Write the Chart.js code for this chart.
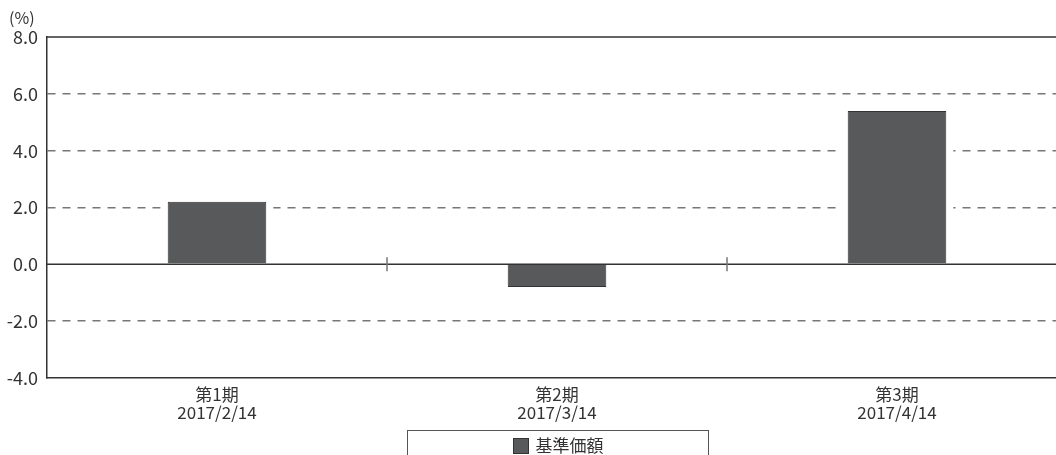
<!DOCTYPE html>
<html>
<head>
<meta charset="utf-8">
<script src="https://cdn.jsdelivr.net/npm/chart.js@4/dist/chart.umd.min.js"></script>
<style>
  html, body { margin: 0; padding: 0; background: #fff; overflow: hidden; }
  #wrap { position: relative; width: 1056px; height: 455px; overflow: hidden; }
  #unit { position: absolute; left: 9px; top: 5px; font: 16px "Noto Sans CJK JP", sans-serif; color: #333; }
  #legend { position: absolute; left: 407px; top: 430px; width: 300px; height: 40px; border: 1px solid #555;
            font: 17px "Noto Sans CJK JP", sans-serif; color: #333; text-align: center; line-height: 27px; }
  #legend span.sw { display: inline-block; width: 14px; height: 14px; border: 1px solid #333; vertical-align: -2px; margin-right: 7px; }
</style>
</head>
<body>
<div id="wrap">
  <canvas id="chart" width="1070" height="455"></canvas>
  <div id="unit">(%)</div>
  <div id="legend"></div>
</div>
<script>
var periods = ['第1期', '第2期', '第3期'];
var dates = ['2017/2/14', '2017/3/14', '2017/4/14'];
var seriesName = '基準価額';
var values = [2.2, -0.8, 5.4];
var yTicks = [-4, -2, 0, 2, 4, 6, 8];

var labels = [];
for (var i in periods) {
	labels.push([periods[i], dates[i]]);
}

var barColor = '#58595b';
var lineColor = '#333333';

// clears the grid next to the bars and draws the solid 0 line, top line and category marks
var axisPlugin = {
	id: 'axisPlugin',
	beforeDatasetsDraw: function(chart) {
		var ctx = chart.ctx;
		var a = chart.chartArea;
		var x = chart.scales.x;
		var y = chart.scales.y;
		var meta = chart.getDatasetMeta(0);
		ctx.save();
		ctx.fillStyle = '#fff';
		meta.data.forEach(function(bar) {
			var top = Math.min(bar.y, bar.base);
			var bottom = Math.max(bar.y, bar.base);
			ctx.fillRect(bar.x - bar.width / 2 - 7, top - 2, bar.width + 14, bottom - top + 4);
		});
		var y0 = y.getPixelForValue(0);
		var yTop = y.getPixelForValue(8);
		ctx.strokeStyle = lineColor;
		ctx.lineWidth = 1.5;
		ctx.beginPath();
		ctx.moveTo(a.left, y0);
		ctx.lineTo(a.right, y0);
		ctx.moveTo(a.left, yTop);
		ctx.lineTo(a.right, yTop);
		ctx.stroke();
		ctx.strokeStyle = '#777';
		ctx.lineWidth = 1.5;
		ctx.beginPath();
		for (var k = 0; k < labels.length; k++) {
			var bx = (x.getPixelForValue(k) + x.getPixelForValue(k + 1)) / 2;
			ctx.moveTo(bx, y0 - 7);
			ctx.lineTo(bx, y0 + 7);
		}
		ctx.stroke();
		ctx.restore();
	}
};

var ctx = document.getElementById('chart');
var chart = new Chart(ctx, {
	type: 'bar',
	data: {
		labels: labels,
		datasets: [{
			label: seriesName,
			data: values,
			backgroundColor: barColor,
			borderColor: lineColor,
			borderWidth: 1,
			categoryPercentage: 1,
			barPercentage: 0.29
		}]
	},
	options: {
		responsive: false,
		animation: false,
		layout: { padding: { top: 37, right: 3, left: 0, bottom: 0 } },
		plugins: {
			legend: { display: false },
			tooltip: { enabled: false }
		},
		scales: {
			x: {
				grid: { drawOnChartArea: false, drawTicks: false },
				border: { display: true, color: lineColor, width: 1.5 },
				ticks: {
					color: '#333',
					padding: 8,
					font: { family: '"Noto Sans CJK JP", sans-serif', size: 17, lineHeight: 1.05 },
					maxRotation: 0
				},
				afterFit: function(s) { s.height = 77; }
			},
			y: {
				min: -4,
				max: 8,
				afterBuildTicks: function(s) {
					s.ticks = yTicks.map(function(v) { return { value: v }; });
				},
				grid: {
					drawTicks: false,
					lineWidth: 1.5,
					color: function(c) {
						var v = c.tick ? c.tick.value : null;
						if (v === 0 || v === 8 || v === -4) return 'rgba(0,0,0,0)';
						return '#777';
					}
				},
				border: { display: true, color: lineColor, width: 1.5, dash: [8, 7] },
				ticks: {
					color: '#333',
					padding: 9,
					font: { family: '"Noto Sans CJK JP", sans-serif', size: 18 },
					callback: function(v) { return Number(v).toFixed(1); }
				},
				afterFit: function(s) { s.width = 47; }
			}
		}
	},
	plugins: [axisPlugin]
});

// legend built from the chart's own legend items
var items = chart.options.plugins.legend.labels.generateLabels(chart);
var lg = document.getElementById('legend');
items.forEach(function(it) {
	var sw = document.createElement('span');
	sw.className = 'sw';
	sw.style.background = it.fillStyle;
	lg.appendChild(sw);
	lg.appendChild(document.createTextNode(it.text));
});
</script>
</body>
</html>
